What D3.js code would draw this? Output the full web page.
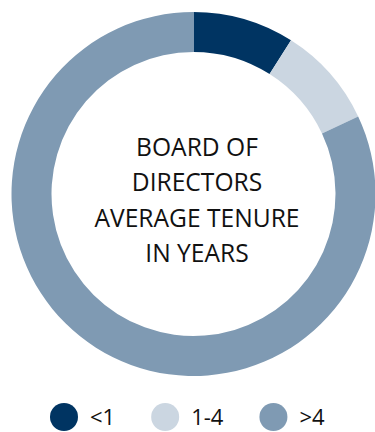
<!DOCTYPE html>
<head>
  <meta charset="utf-8">
  <script src="https://d3js.org/d3.v7.min.js"></script>
  <style>
    body { margin:0; background:#fff; }
    text { font-family: "Open Sans", "Noto Sans", sans-serif; fill:#111; }
  </style>
</head>
<body>
<script>

// data
var categories = ['<1', '1-4', '>4'];
var values = [9, 9, 82];
var colors = ['#003462', '#cbd6e1', '#7f9ab3'];
var titleLines = ['BOARD OF', 'DIRECTORS', 'AVERAGE TENURE', 'IN YEARS'];

var width = 375,
    height = 432,
    cx = 193.5,
    cy = 194,
    outerR = 182,
    innerR = 142;

var svg = d3.select('body')
  .append('svg')
    .attr('width', width)
    .attr('height', height);

var pie = d3.pie().sort(null).value(function(d) { return d; });
var arc = d3.arc().innerRadius(innerR).outerRadius(outerR);

var g = svg.append('g')
    .attr('transform', 'translate(' + cx + ',' + cy + ')');

g.selectAll('path')
    .data(pie(values))
    .enter()
  .append('path')
    .attr('d', arc)
    .attr('fill', function(d, i) { return colors[i]; });

// centre title
g.selectAll('.title')
    .data(titleLines)
    .enter()
  .append('text')
    .attr('class', 'title')
    .attr('x', 3.5)
    .attr('y', function(d, i) { return -38 + i * 35.3; })
    .attr('text-anchor', 'middle')
    .style('font-size', '24.6px')
    .text(function(d) { return d; });

// legend, laid out left to right
var legend = svg.append('g').attr('transform', 'translate(0,417)');
var x = 50;
categories.forEach(function(c, i) {
  var item = legend.append('g');
  item.append('circle')
      .attr('cx', x + 14)
      .attr('cy', 0)
      .attr('r', 14)
      .attr('fill', colors[i]);
  var t = item.append('text')
      .attr('x', x + 40)
      .attr('y', 8)
      .style('font-size', '22px')
      .text(c);
  x = x + 40 + t.node().getComputedTextLength() + 36;
});

</script>
</body>
